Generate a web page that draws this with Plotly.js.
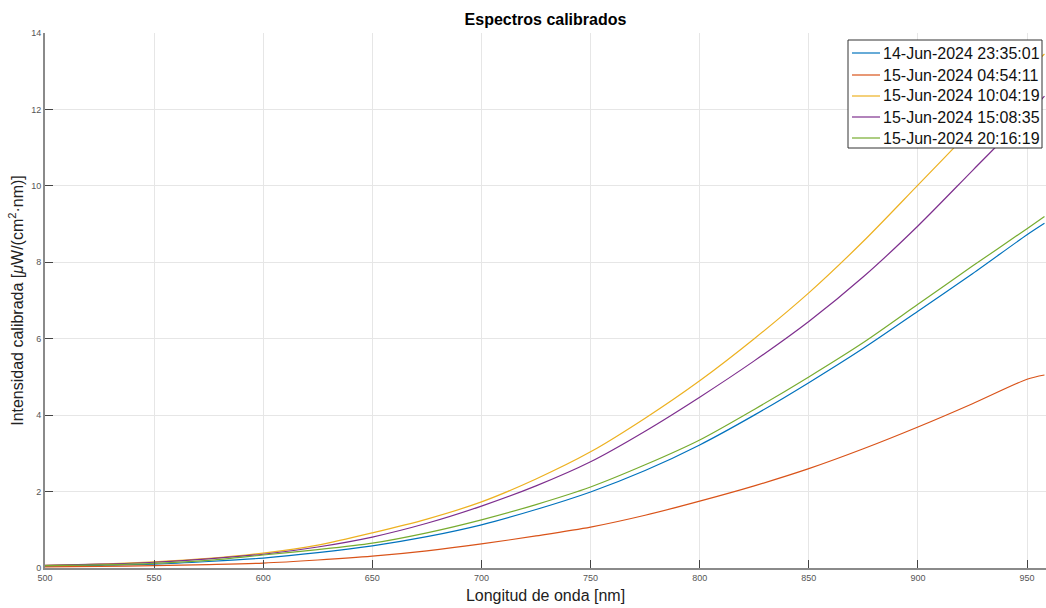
<!DOCTYPE html>
<html>
<head>
<meta charset="utf-8">
<script src="https://cdn.plot.ly/plotly-3.0.1.min.js"></script>
<style>html,body{margin:0;padding:0;background:#fff;}#chart{width:1046px;height:608px;}</style>
</head>
<body>
<div id="chart"></div>
<script>
const wavelength = [500,525,550,575,600,625,650,675,700,725,750,775,800,825,850,875,900,925,950,958];
const s1_blue   = [0.05,0.07,0.10,0.17,0.26,0.40,0.58,0.82,1.13,1.53,1.99,2.55,3.22,4.00,4.85,5.75,6.72,7.70,8.72,9.02];
const s2_orange = [0.03,0.04,0.06,0.09,0.13,0.21,0.31,0.45,0.63,0.84,1.07,1.38,1.75,2.15,2.60,3.12,3.69,4.30,4.94,5.05];
const s3_yellow = [0.07,0.10,0.16,0.25,0.39,0.60,0.92,1.28,1.73,2.33,3.04,3.92,4.90,6.00,7.20,8.55,10.02,11.50,13.00,13.45];
const s4_purple = [0.07,0.10,0.15,0.24,0.36,0.55,0.81,1.17,1.62,2.15,2.78,3.58,4.47,5.42,6.45,7.62,8.95,10.40,11.85,12.35];
const s5_green  = [0.06,0.08,0.12,0.20,0.34,0.48,0.65,0.92,1.26,1.66,2.12,2.70,3.35,4.15,5.00,5.90,6.90,7.90,8.88,9.20];
const seriesNames = ['14-Jun-2024 23:35:01','15-Jun-2024 04:54:11','15-Jun-2024 10:04:19','15-Jun-2024 15:08:35','15-Jun-2024 20:16:19'];
const seriesValues = [s1_blue, s2_orange, s3_yellow, s4_purple, s5_green];
const colors = ['#0072BD','#D95319','#EDB120','#7E2F8E','#77AC30'];
const xTicks = [500,550,600,650,700,750,800,850,900,950];
const yTicks = [0,2,4,6,8,10,12,14];

const traces = seriesValues.map((v,i)=>({
  x: wavelength, y: v, type:'scatter', mode:'lines', name: seriesNames[i],
  line:{color:colors[i], width:1.2, shape:'spline', smoothing:0.8}
}));

// manual legend (pixel layout converted to paper coords)
const L=45, W=1001, B=568, H=535;
const px = p => (p-L)/W, py = p => (B-p)/H;
const shapes = [{type:'rect', xref:'paper', yref:'paper', x0:px(848), x1:px(1042), y0:py(148), y1:py(40),
  line:{color:'#333', width:1}, fillcolor:'#fff', layer:'above'}];
const annotations = [];
const rowY = [53,75,96,117,138];
seriesNames.forEach((n,i)=>{
  shapes.push({type:'line', xref:'paper', yref:'paper', x0:px(852), x1:px(880), y0:py(rowY[i]), y1:py(rowY[i]),
    line:{color:colors[i], width:1.2}, layer:'above'});
  annotations.push({xref:'paper', yref:'paper', x:px(881), y:py(rowY[i]), xanchor:'left', yanchor:'middle',
    text:n, showarrow:false, font:{size:16, color:'#111'}});
});

const layout = {
  width:1046, height:608,
  margin:{l:45, r:0, t:33, b:40},
  paper_bgcolor:'#fff', plot_bgcolor:'#fff',
  font:{family:'Liberation Sans, Arial, sans-serif', color:'#262626'},
  title:{text:'<b>Espectros calibrados</b>', x:0.5215, xanchor:'center', y:0.968, yanchor:'middle', font:{size:16, color:'#000'}},
  xaxis:{range:[500,958.7], tickvals:xTicks, ticktext:xTicks.map(String), ticks:'inside', ticklen:8, tickcolor:'#444',
    showgrid:true, gridcolor:'#e6e6e6', zeroline:false, showline:true, linecolor:'#8a8a8a', linewidth:2,
    tickfont:{size:9, color:'#555'},
    title:{text:'Longitud de onda [nm]', font:{size:16, color:'#222'}, standoff:8}},
  yaxis:{range:[0,14], tickvals:yTicks, ticktext:yTicks.map(String), ticks:'inside', ticklen:8, tickcolor:'#444',
    showgrid:true, gridcolor:'#e6e6e6', zeroline:false, showline:true, linecolor:'#8a8a8a', linewidth:2,
    tickfont:{size:9, color:'#555'},
    title:{text:'Intensidad calibrada [<i>μ</i>W/(cm<sup>2</sup>·nm)]', font:{size:16, color:'#222'}, standoff:4}},
  shapes: shapes,
  annotations: annotations,
  showlegend:false
};
Plotly.newPlot('chart', traces, layout, {displayModeBar:false, staticPlot:true});
</script>
</body>
</html>
